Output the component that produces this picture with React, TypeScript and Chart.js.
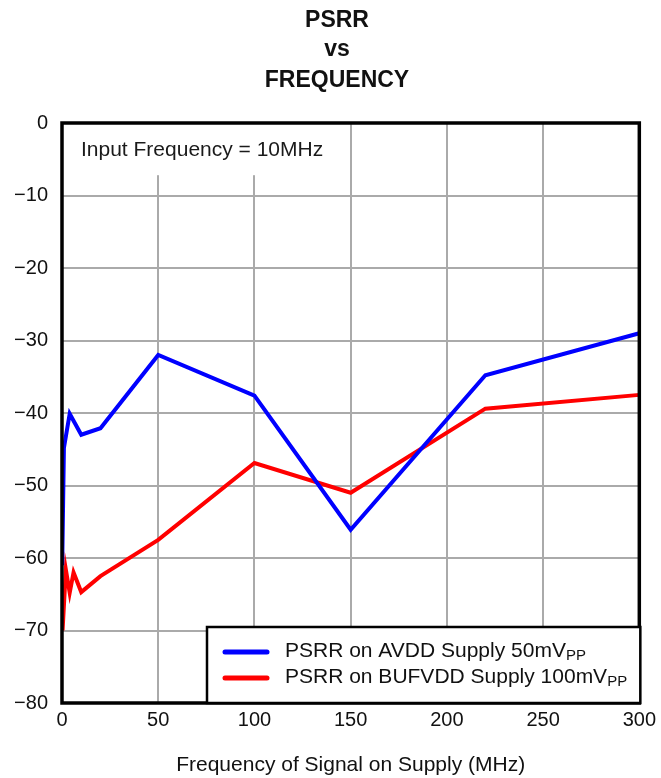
import React, { useEffect, useRef } from "react";
import { Chart, registerables } from "chart.js";

Chart.register(...registerables);

const titleLines = ["PSRR", "vs", "FREQUENCY"];
const xAxisTitle = "Frequency of Signal on Supply (MHz)";
const annotationText = "Input Frequency = 10MHz";
const legendLabels = ["PSRR on AVDD Supply 50mV", "PSRR on BUFVDD Supply 100mV"];
const legendSubscript = "PP";

const freqAvdd = [0.1, 1, 4, 10, 20, 50, 100, 150, 220, 300];
const psrrAvdd = [-61, -44.8, -40.1, -43, -42.1, -32, -37.6, -56.1, -34.8, -29];

const freqBufvdd = [0.3, 2, 4, 6, 10, 20, 50, 100, 150, 220, 300];
const psrrBufvdd = [-70, -61.6, -64.8, -62, -64.7, -62.5, -57.5, -46.9, -51, -39.4, -37.5];

const seriesColors = ["#0000ff", "#ff0000"];

const xTicks = [0, 50, 100, 150, 200, 250, 300];
const yTicks = [0, -10, -20, -30, -40, -50, -60, -70, -80];

const FONT = "'Liberation Sans', Arial, sans-serif";

const fmt = (v: number) => (v < 0 ? "\u2212" + Math.abs(v) : String(v));

export default function App() {
  const ref = useRef<HTMLCanvasElement | null>(null);

  useEffect(() => {
    document.body.style.margin = "0";
    const canvas = ref.current;
    if (!canvas) return;

    const decor = {
      id: "decor",
      beforeDatasetsDraw(chart: any) {
        const { ctx, chartArea } = chart;
        const xs = chart.scales.x;
        const ys = chart.scales.y;
        ctx.save();
        ctx.fillStyle = "#ffffff";
        const bx = chartArea.left;
        const by = chartArea.top;
        const bw = xs.getPixelForValue(135) - bx;
        const bh = ys.getPixelForValue(-7.2) - by;
        ctx.fillRect(bx, by, bw, bh);
        ctx.fillStyle = "#1a1a1a";
        ctx.font = `21px ${FONT}`;
        ctx.textAlign = "left";
        ctx.textBaseline = "middle";
        ctx.fillText(annotationText, chartArea.left + 19, ys.getPixelForValue(-3.7));
        ctx.restore();
      },
      afterDraw(chart: any) {
        const { ctx, chartArea } = chart;
        ctx.save();
        // plot border
        ctx.strokeStyle = "#000";
        ctx.lineWidth = 3.5;
        ctx.strokeRect(chartArea.left, chartArea.top, chartArea.right - chartArea.left, chartArea.bottom - chartArea.top);

        // title
        ctx.fillStyle = "#111";
        ctx.font = `bold 23px ${FONT}`;
        ctx.textAlign = "center";
        ctx.textBaseline = "alphabetic";
        const baselines = [27, 56, 87];
        titleLines.forEach((t, i) => ctx.fillText(t, 337, baselines[i]));

        // legend
        const lx = 207;
        const ly = 627;
        const lw = chartArea.right + 1 - lx;
        const lh = chartArea.bottom - ly;
        ctx.fillStyle = "#fff";
        ctx.fillRect(lx, ly, lw, lh);
        ctx.lineWidth = 2.5;
        ctx.strokeStyle = "#000";
        ctx.strokeRect(lx, ly, lw, lh);
        const rows = [652, 678];
        legendLabels.forEach((label, i) => {
          const y = rows[i];
          ctx.beginPath();
          ctx.strokeStyle = seriesColors[i];
          ctx.lineWidth = 5;
          ctx.lineCap = "round";
          ctx.moveTo(225, y);
          ctx.lineTo(267, y);
          ctx.stroke();
          ctx.fillStyle = "#111";
          ctx.font = `21px ${FONT}`;
          ctx.textAlign = "left";
          ctx.textBaseline = "alphabetic";
          const base = y + 5;
          ctx.fillText(label, 285, base);
          const w = ctx.measureText(label).width;
          ctx.font = `15px ${FONT}`;
          ctx.fillText(legendSubscript, 285 + w, base + 3);
        });
        ctx.restore();
      },
    };

    const chart = new Chart(canvas, {
      type: "line",
      data: {
        datasets: [
          {
            label: legendLabels[0],
            data: freqAvdd.map((x, i) => ({ x, y: psrrAvdd[i] })),
            borderColor: seriesColors[0],
            backgroundColor: seriesColors[0],
            borderWidth: 4,
            pointRadius: 0,
            tension: 0,
          },
          {
            label: legendLabels[1],
            data: freqBufvdd.map((x, i) => ({ x, y: psrrBufvdd[i] })),
            borderColor: seriesColors[1],
            backgroundColor: seriesColors[1],
            borderWidth: 4,
            pointRadius: 0,
            tension: 0,
          },
        ],
      },
      options: {
        animation: false,
        responsive: false,
        devicePixelRatio: 1,
        layout: { padding: { top: 123, right: 21, left: 0, bottom: 0 } },
        plugins: {
          legend: { display: false },
          title: { display: false },
          tooltip: { enabled: false },
        },
        scales: {
          x: {
            type: "linear",
            min: 0,
            max: 300,
            afterBuildTicks: (s: any) => {
              s.ticks = xTicks.map((v) => ({ value: v }));
            },
            afterFit: (s: any) => {
              s.height = 75;
            },
            ticks: {
              padding: 5,
              color: "#111",
              font: { family: FONT, size: 20 },
              maxRotation: 0,
              callback: (v: any) => fmt(Number(v)),
            },
            grid: { color: "#aaaaaa", lineWidth: 2, drawTicks: false },
            border: { display: false },
            title: {
              display: true,
              text: xAxisTitle,
              color: "#111",
              font: { family: FONT, size: 21 },
              padding: { top: 0, bottom: 0 },
            },
          },
          y: {
            type: "linear",
            min: -80,
            max: 0,
            afterBuildTicks: (s: any) => {
              s.ticks = yTicks.map((v) => ({ value: v }));
            },
            afterFit: (s: any) => {
              s.width = 62;
            },
            ticks: {
              padding: 14,
              color: "#111",
              font: { family: FONT, size: 20 },
              callback: (v: any) => fmt(Number(v)),
            },
            grid: { color: "#aaaaaa", lineWidth: 2, drawTicks: false },
            border: { display: false },
          },
        },
      },
      plugins: [decor],
    } as any);

    return () => chart.destroy();
  }, []);

  return (
    <div style={{ width: 661, height: 778 }}>
      <canvas ref={ref} width={661} height={778} style={{ display: "block" }} />
    </div>
  );
}
